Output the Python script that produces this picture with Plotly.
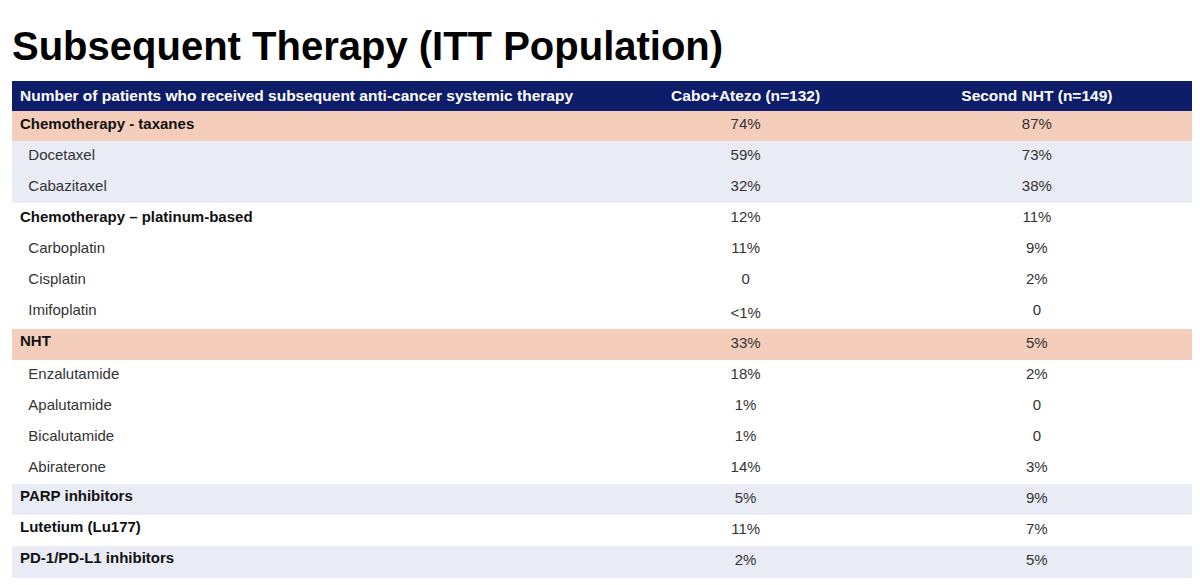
import plotly.graph_objects as go

title = "Subsequent Therapy (ITT Population)"
header_labels = ["Number of patients who received subsequent anti-cancer systemic therapy",
                 "Cabo+Atezo (n=132)", "Second NHT (n=149)"]
therapies = ["Chemotherapy - taxanes", "Docetaxel", "Cabazitaxel",
             "Chemotherapy \u2013 platinum-based", "Carboplatin", "Cisplatin", "Imifoplatin",
             "NHT", "Enzalutamide", "Apalutamide", "Bicalutamide", "Abiraterone",
             "PARP inhibitors", "Lutetium (Lu177)", "PD-1/PD-L1 inhibitors"]
is_group = [True, False, False, True, False, False, False, True, False, False, False, False,
            True, True, True]
cabo_atezo = ["74%", "59%", "32%", "12%", "11%", "0", "<1%", "33%", "18%", "1%", "1%", "14%",
              "5%", "11%", "2%"]
second_nht = ["87%", "73%", "38%", "11%", "9%", "2%", "0", "5%", "2%", "0", "0", "3%",
              "9%", "7%", "5%"]
row_kind = ["peach", "blue", "blue", "white", "white", "white", "white", "peach",
            "white", "white", "white", "white", "blue", "white", "blue"]

palette = {"peach": "#F5CEBB", "blue": "#E9ECF5", "white": "#FFFFFF"}
fills = [palette[k] for k in row_kind]
n = len(therapies)

# sub-rows (normal weight) and group rows (bold weight) drawn as two aligned layers
col1_normal = ["" if g else ("\u00a0\u00a0" + t) for t, g in zip(therapies, is_group)]
col1_bold = [t if g else "" for t, g in zip(therapies, is_group)]
blank = [""] * n
clear = "rgba(0,0,0,0)"

FONT = "Liberation Sans, Arial"
W, H = 1200, 585
dom = dict(x=[4 / W, 1183 / W], y=[0.0, 1 - 73 / H])
widths = [596, 274, 308]

fig = go.Figure()
fig.add_trace(go.Table(
    columnwidth=widths,
    header=dict(values=header_labels,
                fill_color="#0D1D69", line_color="#0D1D69",
                font=dict(family=FONT, size=15.5, color="white", weight="bold"),
                align=["left", "center", "center"], height=29),
    cells=dict(values=[col1_normal, cabo_atezo, second_nht],
               fill_color=[fills, fills, fills],
               line_color=[fills, fills, fills],
               font=dict(family=FONT, size=15, color="#333333"),
               align=["left", "center", "center"], height=31),
    domain=dom,
))
fig.add_trace(go.Table(
    columnwidth=widths,
    header=dict(values=["", "", ""], fill_color=clear, line_color=clear, height=29,
                font=dict(family=FONT, size=15.5, color=clear)),
    cells=dict(values=[col1_bold, blank, blank],
               fill_color=clear, line_color=clear,
               font=dict(family=FONT, size=15, color="#111111", weight="bold"),
               align=["left", "center", "center"], height=31),
    domain=dom,
))
fig.add_annotation(text=title, x=2 / W, y=1 - 38 / H, xref="paper", yref="paper",
                   xanchor="left", yanchor="middle", showarrow=False,
                   font=dict(family=FONT, size=40, color="black", weight="bold"))
fig.update_layout(width=W, height=H, margin=dict(l=0, r=0, t=0, b=0),
                  paper_bgcolor="white", plot_bgcolor="white")
fig.write_html("out.html")
